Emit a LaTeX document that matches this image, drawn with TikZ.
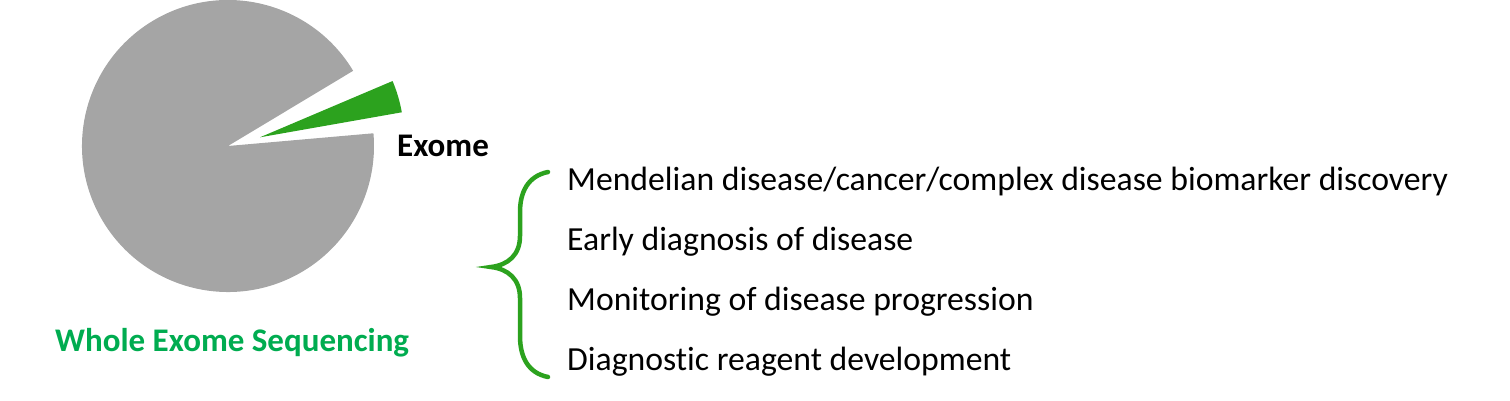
\documentclass[tikz,border=0pt]{standalone}
\usepackage{fontspec}
\setmainfont{Carlito}[Ligatures=NoCommon]
\definecolor{piegray}{RGB}{165,165,165}
\definecolor{exomegreen}{RGB}{44,162,30}
\definecolor{titlegreen}{RGB}{0,172,80}

\begin{document}
\begin{tikzpicture}[
            x=1pt, y=1pt,
            item/.style = {
                font=\fontsize{33.7}{33.7}\selectfont,
                anchor=base west, inner sep=0pt
            },
            brace/.style = {
                exomegreen, line width=4.5pt, line cap=round
            }
            ]
            \useasboundingbox (0,0) rectangle (1510,-401);

            % Pie
            \coordinate (c) at (228,-146);
            \newcommand{\rad}{146}

            \fill[piegray] (c) -- ++(31:\rad)
                arc[start angle=31, end angle=365, radius=\rad] -- cycle;
            \fill[exomegreen] (c) ++(32,8.7) coordinate (apex)
                -- ++(10:144) arc[start angle=10, end angle=23, radius=144] -- cycle;

            % Labels
            \node[anchor=base west, inner sep=0pt, font=\fontsize{33}{33}\selectfont\bfseries]
                (exome) at (397,-157) {Exome};
            \node[anchor=base west, inner sep=0pt, text=titlegreen,
                font=\fontsize{33}{33}\selectfont\bfseries]
                (wes) at (55,-351) {Whole Exome Sequencing};

            % Brace
            \coordinate (btop) at (548,-172);
            \coordinate (btip) at (491,-267);
            \coordinate (bbot) at (548,-377);
            \draw[brace] (btop) .. controls (528,-176) and (520,-192) .. (520,-212)
                -- (520,-236) .. controls (520,-255) and (508,-265) .. (btip)
                .. controls (508,-269) and (520,-279) .. (520,-298)
                -- (520,-336) .. controls (520,-357) and (528,-373) .. (bbot);

            % Applications
            \node[item] (i1) at (567,-190) {Mendelian disease/cancer/complex disease biomarker discovery};
            \node[item] (i2) at (567,-250) {Early diagnosis of disease};
            \node[item] (i3) at (567,-310) {Monitoring of disease progression};
            \node[item] (i4) at (567,-370) {Diagnostic reagent development};
        \end{tikzpicture}
\end{document}
